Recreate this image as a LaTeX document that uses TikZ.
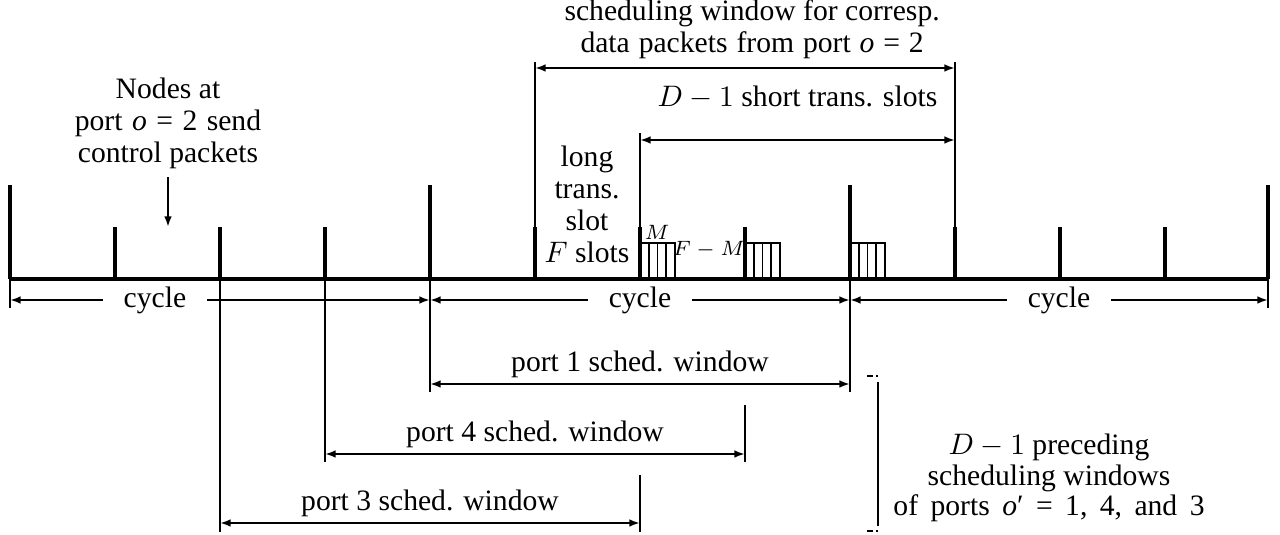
\documentclass[tikz,border=0pt]{standalone}
\usepackage[no-math]{fontspec}
\setmainfont{Liberation Serif}
\usetikzlibrary{arrows.meta}
\begin{document}
\begin{tikzpicture}[x=0.3375pt,y=-0.3375pt,
  thickline/.style={line width=1.1pt},
  thinline/.style={line width=0.7pt},
  hatchline/.style={line width=0.55pt},
  tip/.tip={Latex[length=3.6pt,width=2.6pt]},
  dim/.style={thinline,tip-tip},
  lbl/.style={font=\fontsize{10}{10.8}\selectfont, align=center, inner sep=0pt},
  cyc/.style={font=\fontsize{10}{10.8}\selectfont, fill=white, inner xsep=7pt, inner ysep=1pt},
  small/.style={font=\scriptsize, inner sep=0pt}
]
\useasboundingbox (0,0) rectangle (1280,535);

% baseline coordinates
\foreach \x in {10,115,220,325,430,535,640,745,850,955,1060,1165,1268}
  \coordinate (b\x) at (\x,279);

% timeline
\draw[thickline] (b10) -- (b1268);

% tall ticks
\foreach \x in {10,430,850,1268} {
  \coordinate (t\x) at (\x,185);
  \draw[thickline] (b\x) -- (t\x);
}
% short ticks
\foreach \x in {115,220,325,535,640,745,955,1060,1165} {
  \coordinate (s\x) at (\x,227);
  \draw[thickline] (b\x) -- (s\x);
}

% extensions above
\coordinate (u535) at (535,62);
\coordinate (u955) at (955,62);
\coordinate (u640) at (640,133);
\draw[thinline] (s535) -- (u535);
\draw[thinline] (s955) -- (u955);
\draw[thinline] (s640) -- (u640);

% extensions below
\coordinate (d10) at (10,308);
\coordinate (d1268) at (1268,308);
\coordinate (d430) at (430,392);
\coordinate (d850) at (850,392);
\coordinate (d325) at (325,462);
\coordinate (d220) at (220,532);
\foreach \x in {10,1268,430,850,325,220}
  \draw[thinline] (b\x) -- (d\x);
\coordinate (e745a) at (745,405);
\coordinate (e745b) at (745,462);
\coordinate (e640a) at (640,475);
\coordinate (e640b) at (640,532);
\draw[thinline] (e745a) -- (e745b);
\draw[thinline] (e640a) -- (e640b);

% hatched slot groups
\foreach \s in {640,745,850} {
  \draw[thinline] (\s,243) -- (\s+35,243) -- (\s+35,279);
  \foreach \k in {1,2,3}
    \draw[hatchline] (\s+8.75*\k,243) -- (\s+8.75*\k,279);
}

% cycle arrows
\coordinate (c10) at (10,300);
\coordinate (c430) at (430,300);
\coordinate (c850) at (850,300);
\coordinate (c1268) at (1268,300);
\draw[dim] (c10) -- node[cyc, pos=0.345] (cy1) {cycle} (c430);
\draw[dim] (c430) -- node[cyc] (cy2) {cycle} (c850);
\draw[dim] (c850) -- node[cyc] (cy3) {cycle} (c1268);

% port scheduling windows
\coordinate (p1a) at (430,384);
\coordinate (p1b) at (850,384);
\coordinate (p4a) at (325,454);
\coordinate (p4b) at (745,454);
\coordinate (p3a) at (220,523);
\coordinate (p3b) at (640,523);
\draw[dim] (p1a) -- node[lbl, above=1.7pt] (l1) {port 1 sched. window} (p1b);
\draw[dim] (p4a) -- node[lbl, above=1.7pt] (l4) {port 4 sched. window} (p4b);
\draw[dim] (p3a) -- node[lbl, above=1.7pt] (l3) {port 3 sched. window} (p3b);

% top scheduling window
\coordinate (w1) at (535,68);
\coordinate (w2) at (955,68);
\draw[dim] (w1) -- node[lbl, above=2.6pt, xshift=2.4pt] (wl)
  {scheduling window for corresp.\\{\spaceskip=0.3em\relax data packets from port \textit{o} = 2}} (w2);

% D-1 short trans slots
\coordinate (ds1) at (640,140);
\coordinate (ds2) at (955,140);
\draw[dim] (ds1) -- node[lbl, above=10pt] (dl) {$D-1$ short trans. slots} (ds2);

% long trans slot label
\node[lbl] (lt) at (587,204) {long\\trans.\\slot\\$F$ slots};

% M labels
\node[small] (mlab) at (657,232) {$M$};
\node[small] (fmlab) at (709,250) {$F-M$};

% control packets
\node[lbl] (ctrl) at (168,123) {Nodes at\\{\spaceskip=0.32em\relax port \textit{o} = 2 send}\\control packets};
\coordinate (ca) at (168,227);
\draw[thinline, -tip] (ctrl.south) ++(0,8) coordinate (cs) (cs) -- (ca);

% bracket
\coordinate (br1) at (878,382);
\coordinate (br2) at (878,526);
\draw[thinline] (br1) -- (br2);
\draw[thinline] (867,376) -- (873,376) (876,376) -- (878,376);
\draw[thinline] (867,531) -- (873,531) (876,531) -- (878,531);

% right text
\node[lbl, font=\fontsize{10}{10.2}\selectfont] (rt) at (1049,478)
  {$D-1$ preceding\\scheduling windows\\{\spaceskip=0.42em\relax of ports \textit{o}′ = 1, 4, and 3}};
\end{tikzpicture}
\end{document}
